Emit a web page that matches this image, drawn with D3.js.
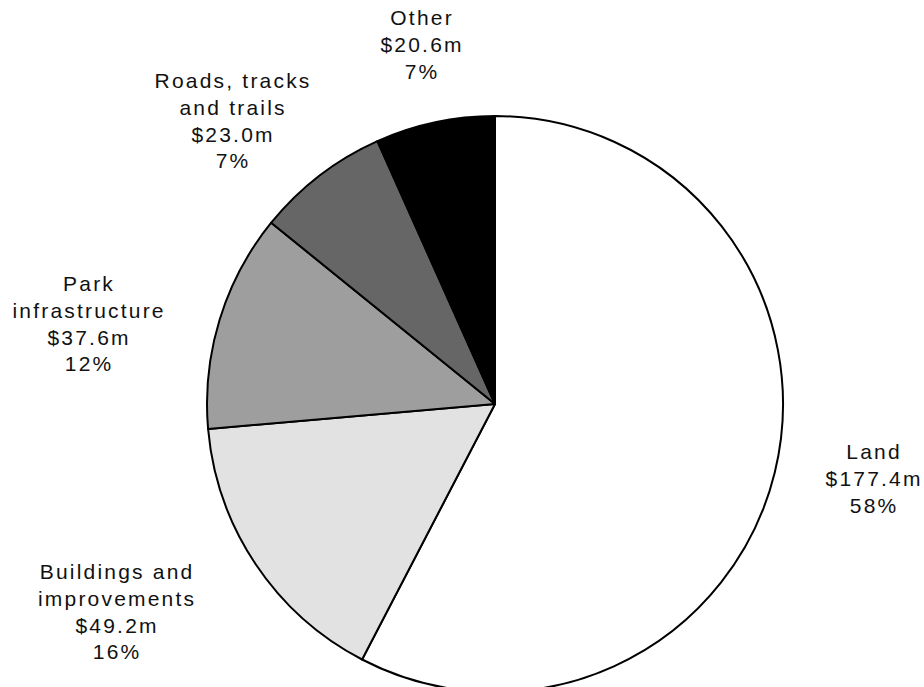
<!DOCTYPE html>
<html>
<head>
<meta charset="utf-8">
<script src="https://cdn.jsdelivr.net/npm/d3@7/dist/d3.min.js"></script>
<style>
  html, body { margin: 0; padding: 0; background: #fff; }
  svg { display: block; }
  .lbl { font-family: "Liberation Sans", Arial, sans-serif; font-size: 21px; letter-spacing: 2.2px; fill: #111; }
</style>
</head>
<body>
<svg id="chart" width="924" height="687"></svg>
<script>
// Capital spending by asset class ($m)
const categories = ["Land", "Buildings and improvements", "Park infrastructure", "Roads, tracks and trails", "Other"];
const labelLines = [["Land"], ["Buildings and", "improvements"], ["Park", "infrastructure"], ["Roads, tracks", "and trails"], ["Other"]];
const values = [177.4, 49.2, 37.6, 23.0, 20.6];
const fills = ["#ffffff", "#e2e2e2", "#9e9e9e", "#666666", "#000000"];

// Label block anchors: centre x and baseline of the first line
const labelAnchor = [
  { x: 873, y: 459 },
  { x: 116, y: 579 },
  { x: 88,  y: 291 },
  { x: 232, y: 88 },
  { x: 421, y: 25 }
];

const cx = 495, cy = 404, R = 288;
const lineGap = 26.8;

const svg = d3.select("#chart");
const total = d3.sum(values);
const data = categories.map((c, i) => ({ name: c, value: values[i], i }));

const pie = d3.pie().value(d => d.value).sort(null).startAngle(0).endAngle(2 * Math.PI);
const arc = d3.arc().innerRadius(0).outerRadius(R);

const g = svg.append("g").attr("transform", `translate(${cx},${cy})`);
g.selectAll("path.slice")
  .data(pie(data))
  .join("path")
  .attr("class", "slice")
  .attr("d", arc)
  .attr("fill", d => fills[d.data.i])
  .attr("stroke", "#000")
  .attr("stroke-width", 2)
  .attr("stroke-linejoin", "round");

const fmtMoney = v => "$" + v.toFixed(1) + "m";
const fmtPct = v => Math.round(v / total * 100) + "%";

data.forEach(d => {
  const lines = labelLines[d.i].concat([fmtMoney(d.value), fmtPct(d.value)]);
  const a = labelAnchor[d.i];
  const t = svg.append("text").attr("class", "lbl").attr("text-anchor", "middle");
  lines.forEach((s, k) => {
    t.append("tspan").attr("x", a.x + 1.1).attr("y", a.y + k * lineGap).text(s);
  });
});
</script>
</body>
</html>
